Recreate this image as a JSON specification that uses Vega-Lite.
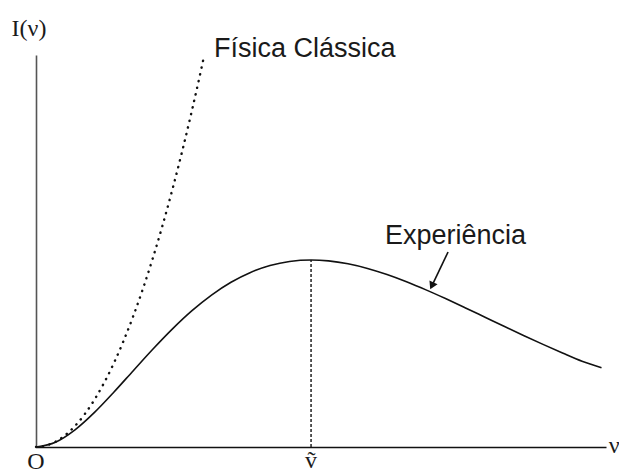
{
  "$schema": "https://vega.github.io/schema/vega-lite/v6.json",
  "width": 570,
  "height": 392,
  "autosize": "none",
  "padding": {"left": 36, "top": 55, "right": 13, "bottom": 28},
  "background": "white",
  "config": {"view": {"stroke": null}},
  "datasets": {
    "planck": [
      {"nu": 0.0, "I": 0.0}, {"nu": 0.2, "I": 0.0361}, {"nu": 0.4, "I": 0.1301},
      {"nu": 0.6, "I": 0.2627}, {"nu": 0.8, "I": 0.4178}, {"nu": 1.0, "I": 0.582},
      {"nu": 1.2, "I": 0.7448}, {"nu": 1.4, "I": 0.8981}, {"nu": 1.6, "I": 1.0362},
      {"nu": 1.8, "I": 1.1549}, {"nu": 2.0, "I": 1.2521}, {"nu": 2.2, "I": 1.3269},
      {"nu": 2.4, "I": 1.3792}, {"nu": 2.6, "I": 1.4102}, {"nu": 2.821, "I": 1.4213},
      {"nu": 3.0, "I": 1.4147}, {"nu": 3.2, "I": 1.3925}, {"nu": 3.4, "I": 1.357},
      {"nu": 3.6, "I": 1.3106}, {"nu": 3.8, "I": 1.2556}, {"nu": 4.0, "I": 1.1941},
      {"nu": 4.2, "I": 1.1279}, {"nu": 4.4, "I": 1.0588}, {"nu": 4.6, "I": 0.9883},
      {"nu": 4.8, "I": 0.9177}, {"nu": 5.0, "I": 0.848}, {"nu": 5.2, "I": 0.78},
      {"nu": 5.4, "I": 0.7144}, {"nu": 5.6, "I": 0.6518}, {"nu": 5.8, "I": 0.6025}
    ],
    "classica": [
      {"nu": 0.0, "I": 0.0}, {"nu": 0.1, "I": 0.01}, {"nu": 0.2, "I": 0.04},
      {"nu": 0.3, "I": 0.09}, {"nu": 0.4, "I": 0.16}, {"nu": 0.5, "I": 0.25},
      {"nu": 0.6, "I": 0.36}, {"nu": 0.7, "I": 0.49}, {"nu": 0.8, "I": 0.64},
      {"nu": 0.9, "I": 0.81}, {"nu": 1.0, "I": 1.0}, {"nu": 1.1, "I": 1.21},
      {"nu": 1.2, "I": 1.44}, {"nu": 1.3, "I": 1.69}, {"nu": 1.4, "I": 1.96},
      {"nu": 1.5, "I": 2.25}, {"nu": 1.6, "I": 2.56}, {"nu": 1.7, "I": 2.89},
      {"nu": 1.723, "I": 2.969}
    ],
    "pico": [
      {"nu": 2.821, "I": 0.0}, {"nu": 2.821, "I": 1.4213}
    ],
    "seta": [
      {"nu": 4.226, "I": 1.482, "nu2": 4.07, "I2": 1.24}
    ],
    "ponta": [
      {"nu": 4.06, "I": 1.225}
    ],
    "rotulos": [
      {"nu": 1.826, "I": 2.964, "txt": "Física Clássica"},
      {"nu": 3.579, "I": 1.543, "txt": "Experiência"}
    ],
    "eixo": [
      {"nu": -0.25, "I": 3.125, "txt": "I(ν)", "pos": "left"},
      {"nu": 0.0, "I": -0.115, "txt": "O", "pos": "center"},
      {"nu": 2.821, "I": -0.11, "txt": "ṽ", "pos": "center"},
      {"nu": 5.93, "I": 0.01, "txt": "ν", "pos": "center"}
    ]
  },
  "layer": [
    {
      "data": {"name": "pico"},
      "mark": {"type": "line", "color": "#222", "strokeWidth": 1.5, "strokeDash": [3, 2]},
      "encoding": {
        "x": {"field": "nu", "type": "quantitative", "scale": {"domain": [0, 5.846], "nice": false, "zero": false},
              "axis": {"labels": false, "ticks": false, "title": null, "grid": false, "domainColor": "#111", "domainWidth": 1.6}},
        "y": {"field": "I", "type": "quantitative", "scale": {"domain": [0, 2.979], "nice": false, "zero": false},
              "axis": {"labels": false, "ticks": false, "title": null, "grid": false, "domainColor": "#555", "domainWidth": 1.6}}
      }
    },
    {
      "data": {"name": "planck"},
      "mark": {"type": "line", "color": "#111", "strokeWidth": 1.6, "interpolate": "monotone"},
      "encoding": {
        "x": {"field": "nu", "type": "quantitative"},
        "y": {"field": "I", "type": "quantitative"}
      }
    },
    {
      "data": {"name": "classica"},
      "mark": {"type": "line", "color": "#111", "strokeWidth": 2.4, "strokeDash": [0.3, 6.5], "strokeCap": "round", "interpolate": "monotone"},
      "encoding": {
        "x": {"field": "nu", "type": "quantitative"},
        "y": {"field": "I", "type": "quantitative"}
      }
    },
    {
      "data": {"name": "seta"},
      "mark": {"type": "rule", "color": "#111", "strokeWidth": 1.6},
      "encoding": {
        "x": {"field": "nu", "type": "quantitative"},
        "y": {"field": "I", "type": "quantitative"},
        "x2": {"field": "nu2"},
        "y2": {"field": "I2"}
      }
    },
    {
      "data": {"name": "ponta"},
      "mark": {"type": "point", "shape": "triangle-up", "filled": true, "color": "#111", "opacity": 1, "size": 80, "angle": 205},
      "encoding": {
        "x": {"field": "nu", "type": "quantitative"},
        "y": {"field": "I", "type": "quantitative"}
      }
    },
    {
      "data": {"name": "rotulos"},
      "mark": {"type": "text", "align": "left", "baseline": "alphabetic", "font": "Liberation Sans", "fontSize": 27, "color": "#1a1a1a"},
      "encoding": {
        "x": {"field": "nu", "type": "quantitative"},
        "y": {"field": "I", "type": "quantitative"},
        "text": {"field": "txt"}
      }
    },
    {
      "data": {"name": "eixo"},
      "transform": [{"filter": "datum.pos === 'left'"}],
      "mark": {"type": "text", "align": "left", "baseline": "alphabetic", "font": "Liberation Serif", "fontSize": 24, "color": "#1a1a1a"},
      "encoding": {
        "x": {"field": "nu", "type": "quantitative"},
        "y": {"field": "I", "type": "quantitative"},
        "text": {"field": "txt"}
      }
    },
    {
      "data": {"name": "eixo"},
      "transform": [{"filter": "datum.pos === 'center'"}],
      "mark": {"type": "text", "align": "center", "baseline": "middle", "font": "Liberation Serif", "fontSize": 24, "color": "#1a1a1a"},
      "encoding": {
        "x": {"field": "nu", "type": "quantitative"},
        "y": {"field": "I", "type": "quantitative"},
        "text": {"field": "txt"}
      }
    }
  ]
}
